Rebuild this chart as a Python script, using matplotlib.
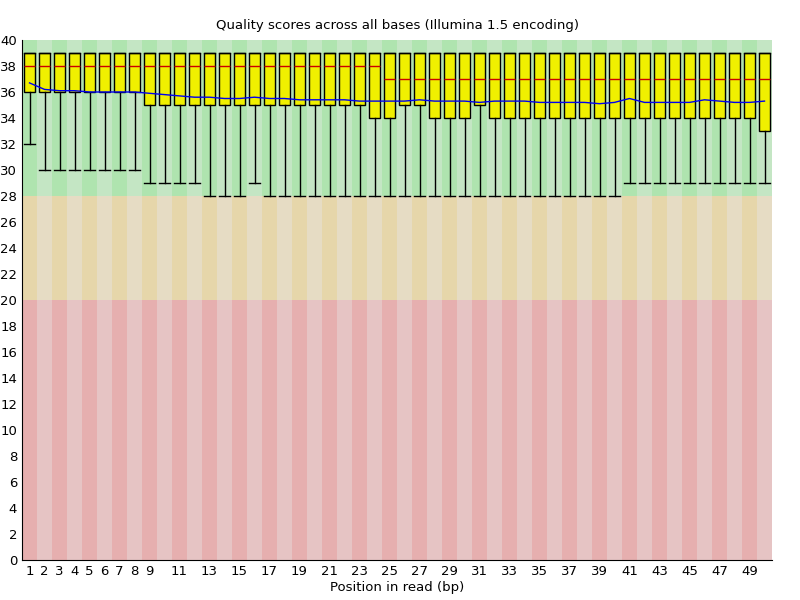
import matplotlib
matplotlib.use("Agg")
import matplotlib.pyplot as plt
import numpy as np

positions = np.arange(1, 51)
upper = [39] * 50
medians = [38] * 24 + [37] * 26
q1 = ([36] * 8 + [35] * 15 + [34, 34] + [35, 35, 34, 34, 34, 35]
      + [34] * 18 + [33])
lower = ([32] + [30] * 7 + [29] * 4 + [28] * 3 + [29] + [28] * 24 + [29] * 10)
means = [36.7, 36.2, 36.1, 36.1, 36.0, 36.0, 36.0, 36.0, 35.9, 35.8,
         35.7, 35.6, 35.6, 35.5, 35.5, 35.6, 35.5, 35.5, 35.4, 35.4,
         35.4, 35.4, 35.3, 35.3, 35.3, 35.3, 35.4, 35.3, 35.3, 35.3,
         35.2, 35.3, 35.3, 35.3, 35.2, 35.2, 35.2, 35.2, 35.1, 35.2,
         35.5, 35.2, 35.2, 35.2, 35.2, 35.4, 35.3, 35.2, 35.2, 35.3]
xtick_labels = [1, 2, 3, 4, 5, 6, 7, 8, 9] + list(range(11, 50, 2))

fig = plt.figure(figsize=(8, 6), dpi=100)
ax = fig.add_axes([22 / 800, 40 / 600, 750 / 800, 520 / 600])

bands = [(0, 20, ("#e6afaf", "#e6c4c4")),
         (20, 28, ("#e6d6aa", "#e6dcc4")),
         (28, 40, ("#afe4af", "#c4e6c4"))]
for lo, hi, cols in bands:
    for i, p in enumerate(positions):
        ax.axhspan(lo, hi, xmin=(p - 1) / 50, xmax=p / 50,
                   color=cols[i % 2], lw=0, zorder=0)

stats = [dict(med=m, q1=a, q3=u, whislo=lw, whishi=u, fliers=[])
         for m, a, u, lw in zip(medians, q1, upper, lower)]
ax.bxp(stats, positions=positions, widths=0.75, patch_artist=True,
       showfliers=False, capwidths=0.75,
       boxprops=dict(facecolor="#f0f000", edgecolor="black", lw=1),
       medianprops=dict(color="#cc0000", lw=1),
       whiskerprops=dict(color="black", lw=1),
       capprops=dict(color="black", lw=1))
ax.plot(positions, means, color="#0000ee", lw=1, zorder=5)

ax.set_xlim(0.5, 50.5)
ax.set_ylim(0, 40)
ax.set_yticks(range(0, 41, 2))
ax.set_xticks(xtick_labels)
ax.set_xticklabels([str(v) for v in xtick_labels])
ax.tick_params(length=0, labelsize=9.5)
for s in ("top", "right"):
    ax.spines[s].set_visible(False)
ax.set_xlabel("Position in read (bp)", fontsize=9.5, labelpad=2)
ax.set_title("Quality scores across all bases (Illumina 1.5 encoding)",
             fontsize=9.5, pad=8)

fig.savefig("out.png", dpi=100)
